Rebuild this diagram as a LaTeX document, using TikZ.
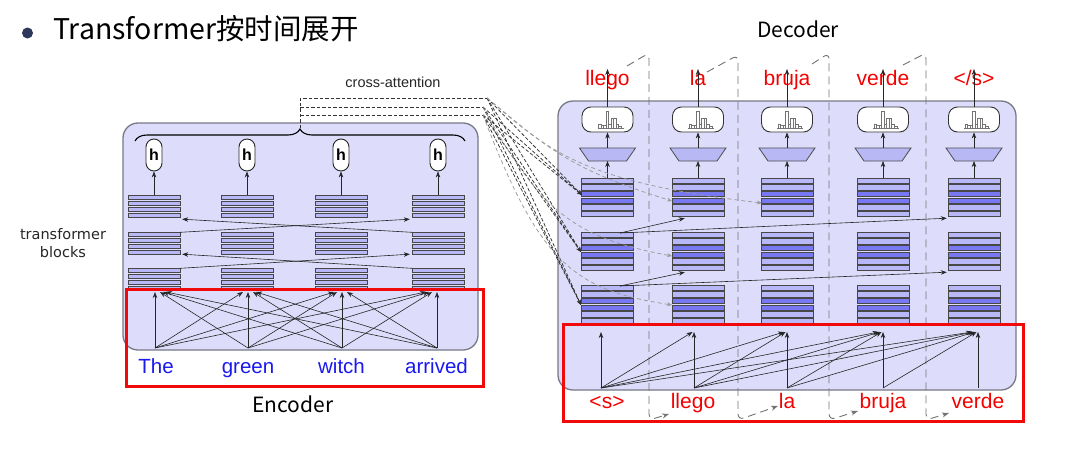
\documentclass[tikz,border=0pt]{standalone}
\usepackage{fontspec}
\setmainfont{Liberation Sans}
\newfontfamily\cjk{Noto Sans CJK SC}
\newfontfamily\dvs{DejaVu Sans}
\usetikzlibrary{arrows.meta,calc,decorations.pathreplacing}

\definecolor{panel}{RGB}{221,221,251}
\definecolor{panelborder}{RGB}{120,120,135}
\definecolor{barlight}{RGB}{184,184,248}
\definecolor{bardark}{RGB}{120,120,242}
\definecolor{redbox}{RGB}{240,10,10}
\definecolor{wordblue}{RGB}{25,25,240}
\definecolor{wordred}{RGB}{245,0,0}
\definecolor{bulletc}{RGB}{45,55,90}
\definecolor{trapfill}{RGB}{184,184,245}

\tikzset{
  panelbox/.style={draw=panelborder, line width=1.3pt, fill=panel, rounded corners=15pt},
  redframe/.style={draw=redbox, line width=3pt},
  barbox/.style={draw=black!72, line width=0.7pt, fill=barlight},
  bardk/.style={draw=black!72, line width=0.7pt, fill=bardark},
  arr/.style={-{Stealth[length=6pt,width=4.5pt]}, line width=0.6pt, draw=black!85},
  sepline/.style={draw=black!55, dash pattern=on 8pt off 5pt, line width=0.9pt,
     rounded corners=6pt, -{Stealth[length=7pt,width=5pt]}},
  xattn/.style={draw=black!80, dash pattern=on 3.5pt off 2pt, line width=0.75pt},
  xattnarr/.style={xattn, -{Stealth[length=5pt,width=4pt]}},
  xlight/.style={draw=black!40, dash pattern=on 4pt off 3pt, line width=0.75pt, -{Stealth[length=5pt,width=4pt]}},
  hpill/.style={draw=black!85, line width=0.9pt, fill=white, rounded corners=8pt,
     minimum width=16pt, minimum height=32pt, inner sep=0pt,
     font=\bfseries\fontsize{16}{16}\selectfont},
  distbox/.style={draw=black!80, line width=0.9pt, fill=white, rounded corners=9pt,
     minimum width=51pt, minimum height=25pt, inner sep=0pt},
  enword/.style={text=wordblue, anchor=base, inner sep=0pt, font=\fontsize{20.5}{20.5}\selectfont},
  deword/.style={text=wordred, anchor=base, inner sep=0pt, font=\fontsize{21}{21}\selectfont},
  biglabel/.style={anchor=base, inner sep=0pt, font=\cjk\fontsize{21}{21}\selectfont},
  hist/.style={draw=black!55, line width=0.5pt},
}

\newcommand\encstack[3]{%
  \node[minimum width=52pt,minimum height=24pt,inner sep=0pt] (#1) at (#2,{#3+12}) {};
  \foreach \k in {0,1,2,3}{\draw[barbox] ({#2-26},{#3+6*\k}) rectangle ({#2+26},{#3+6*\k+4.8});}
}
\newcommand\decstack[3]{%
  \node[minimum width=52pt,minimum height=40pt,inner sep=0pt] (#1) at (#2,{#3+20}) {};
  \foreach \k in {0,1,4,5}{\draw[barbox] ({#2-26},{#3+6.7*\k}) rectangle ({#2+26},{#3+6.7*\k+5.2});}
  \foreach \k in {2,3}{\draw[bardk] ({#2-26},{#3+6.7*\k}) rectangle ({#2+26},{#3+6.7*\k+5.2});}
}

\begin{document}
\begin{tikzpicture}[x=1pt,y=-1pt]
\useasboundingbox (0,0) rectangle (1073,455);
\fill[white] (0,0) rectangle (1073,455);

% ---------- title ----------
\fill[bulletc] (27.5,33) circle (5.5);
\node[anchor=base west, inner sep=0pt, font=\cjk\fontsize{28.5}{28.5}\selectfont] (title) at (53,39) {Transformer按时间展开};

% ---------- encoder ----------
\draw[panelbox] (123,123) rectangle (478,350);
\node[align=center, font=\dvs\fontsize{14.5}{18}\selectfont, text=black!85] (tblabel) at (63,243) {transformer\\blocks};

\foreach \c/\x in {1/154,2/247,3/341,4/438}{
  \encstack{eb\c}{\x}{268}
  \encstack{em\c}{\x}{232}
  \encstack{et\c}{\x}{195}
  \node[hpill] (h\c) at (\x,155) {h};
  \draw[arr] (et\c.north) -- (h\c.south);
}
% crossing connections between stacks
\draw[arr] ($(em1.north east)+(0,0.5)$) -- ($(et4.south west)+(-2,0)$);
\draw[arr] ($(em4.north west)+(0,0.5)$) -- ($(et1.south east)+(2,0)$);
\draw[arr] ($(eb1.north east)+(0,0.5)$) -- ($(em4.south west)+(-2,-2)$);
\draw[arr] ($(eb4.north west)+(0,0.5)$) -- ($(em1.south east)+(2,-2)$);

% brace over the h outputs
\coordinate (brL) at (135,141);
\coordinate (brR) at (465,141);
\draw[line width=1.1pt, decorate, decoration={brace, amplitude=12pt}] (brL) -- (brR);
\coordinate (brtip) at (300,128);

% encoder input words and all-to-all arrows
\foreach \i/\x in {1/155,2/248,3/342,4/437}{
  \coordinate (es\i) at (\x,348);
  \coordinate (ett\i) at (\x,292);
}
\foreach \i in {1,2,3,4}{
  \foreach \j in {1,2,3,4}{
    \pgfmathsetmacro\off{(\i==\j) ? 0 : ((\i>\j) ? (5+3*(\i-\j-1)) : -(5+3*(\j-\i-1)))}
    \draw[arr] (es\i) -- ($(ett\j)+(\off,0)$);
  }
}
\draw[redframe] (126,289) rectangle (483,386);
\node[enword] (w1) at (156,373) {The};
\node[enword] (w2) at (248,373) {green};
\node[enword] (w3) at (341.5,373) {witch};
\node[enword] (w4) at (436.5,373) {arrived};
\node[biglabel] (enclabel) at (293,412) {Encoder};

% ---------- decoder ----------
\draw[panelbox] (558,101) rectangle (1016,390);
\node[biglabel] (declabel) at (798,37) {Decoder};

% separators / loop-back connections
\coordinate (lb1a) at (627,66);  \coordinate (lb1b) at (649,53);  \coordinate (lb1c) at (649,420); \coordinate (lb1d) at (669,414);
\coordinate (lb2a) at (707,72);  \coordinate (lb2b) at (738,55);  \coordinate (lb2c) at (738,420); \coordinate (lb2d) at (778,406);
\coordinate (lb3a) at (812,64);  \coordinate (lb3b) at (829,53);  \coordinate (lb3c) at (829,420); \coordinate (lb3d) at (858,411);
\coordinate (lb4a) at (903,65);  \coordinate (lb4b) at (926,53);  \coordinate (lb4c) at (926,420); \coordinate (lb4d) at (949,413);
\foreach \s in {1,2,3,4}{
  \draw[sepline] (lb\s a) -- (lb\s b) -- (lb\s c) -- (lb\s d);
}

\foreach \c/\x/\w in {1/607.5/llego,2/698/la,3/787/bruja,4/883/verde,5/974/{</s>}}{
  \decstack{db\c}{\x}{285}
  \decstack{dm\c}{\x}{232}
  \decstack{dt\c}{\x}{178}
  \filldraw[draw=black!70, line width=0.8pt, fill=trapfill] ({\x-28},148) -- ({\x+28},148) -- ({\x+19},161) -- ({\x-19},161) -- cycle;
  \coordinate (trtop\c) at (\x,148);
  \coordinate (trbot\c) at (\x,161);
  \node[distbox] (dist\c) at (\x,119.5) {};
  % histogram
  \draw[hist] ({\x-10},128) -- ({\x+16},128);
  \draw[hist] ({\x-9},128) rectangle ({\x-6.5},124.5);
  \draw[hist] ({\x-6.5},128) rectangle ({\x-4},125.5);
  \draw[hist] ({\x-4},128) rectangle ({\x-1.5},125.5);
  \draw[hist] ({\x-1.5},128) rectangle ({\x+1},111);
  \draw[hist] ({\x+1},128) rectangle ({\x+3.5},124.5);
  \draw[hist] ({\x+3.5},128) rectangle ({\x+6},118);
  \draw[hist] ({\x+6},128) rectangle ({\x+8.5},118.5);
  \draw[hist] ({\x+8.5},128) rectangle ({\x+11},124.5);
  \draw[hist] ({\x+11},128) rectangle ({\x+14},126.5);
  \node[deword] (out\c) at (\x,85) {\w};
  \draw[arr] (dt\c.north) -- (trbot\c);
  \draw[arr] (trtop\c) -- (dist\c.south);
  \draw[arr] (dist\c.north) -- ($(out\c.base)+(0,-16)$);
}

% connections between decoder stacks
\coordinate (m1s) at (620,233);
\coordinate (b1s) at (620,286);
\draw[arr] (m1s) -- ($(dt2.south west)+(13,0)$);
\draw[arr] (m1s) -- ($(dt5.south west)+(-1,0)$);
\draw[arr] (b1s) -- ($(dm2.south west)+(13,0)$);
\draw[arr] (b1s) -- ($(dm5.south west)+(-1,0)$);

% cross-attention connectors
\node[font=\fontsize{14.5}{14.5}\selectfont, text=black!85, inner sep=0pt] (xlabel) at (393,82) {cross-attention};
\coordinate (xv1) at (300,98);  \coordinate (xc1) at (487,98);
\coordinate (xv2) at (300,107); \coordinate (xc2) at (483,107);
\coordinate (xv3) at (300,115); \coordinate (xc3) at (483,115);
\draw[xattn] (brtip) -- (xv1) -- (xc1);
\draw[xattn] (xv2) -- (xc2);
\draw[xattn] (xv3) -- (xc3);
\coordinate (xt1) at (582,195);
\coordinate (xt2) at (581,252);
\coordinate (xt3) at (581,305);
\foreach \a in {1,2,3}{
  \foreach \b in {1,2,3}{
    \draw[xattnarr] (xc\a) -- (xt\b);
  }
}
\draw[xlight] (xc1) .. controls (545,145) and (565,168) .. (672,201);
\draw[xlight] (xc1) .. controls (548,150) and (580,182) .. (762,203);
\draw[xlight] (xc2) .. controls (540,212) and (575,238) .. (672,256);
\draw[xlight] (xc3) .. controls (540,265) and (575,290) .. (672,305);

% decoder inputs and causal arrows
\foreach \i/\x in {1/601,2/694,3/787,4/883,5/978}{
  \coordinate (ds\i) at (\x,388);
  \coordinate (dtt\i) at (\x,332);
}
\foreach \i in {1,...,5}{
  \foreach \j in {\i,...,5}{
    \pgfmathsetmacro\off{-1.5*(\j-\i)}
    \draw[arr] (ds\i) -- ($(dtt\j)+(\off,0)$);
  }
}
\draw[redframe] (563,324) rectangle (1023,421);
\node[deword] (in1) at (607,408) {<s>};
\node[deword] (in2) at (693,408) {llego};
\node[deword] (in3) at (787,408) {la};
\node[deword] (in4) at (883,408) {bruja};
\node[deword] (in5) at (978,408) {verde};
\end{tikzpicture}
\end{document}
